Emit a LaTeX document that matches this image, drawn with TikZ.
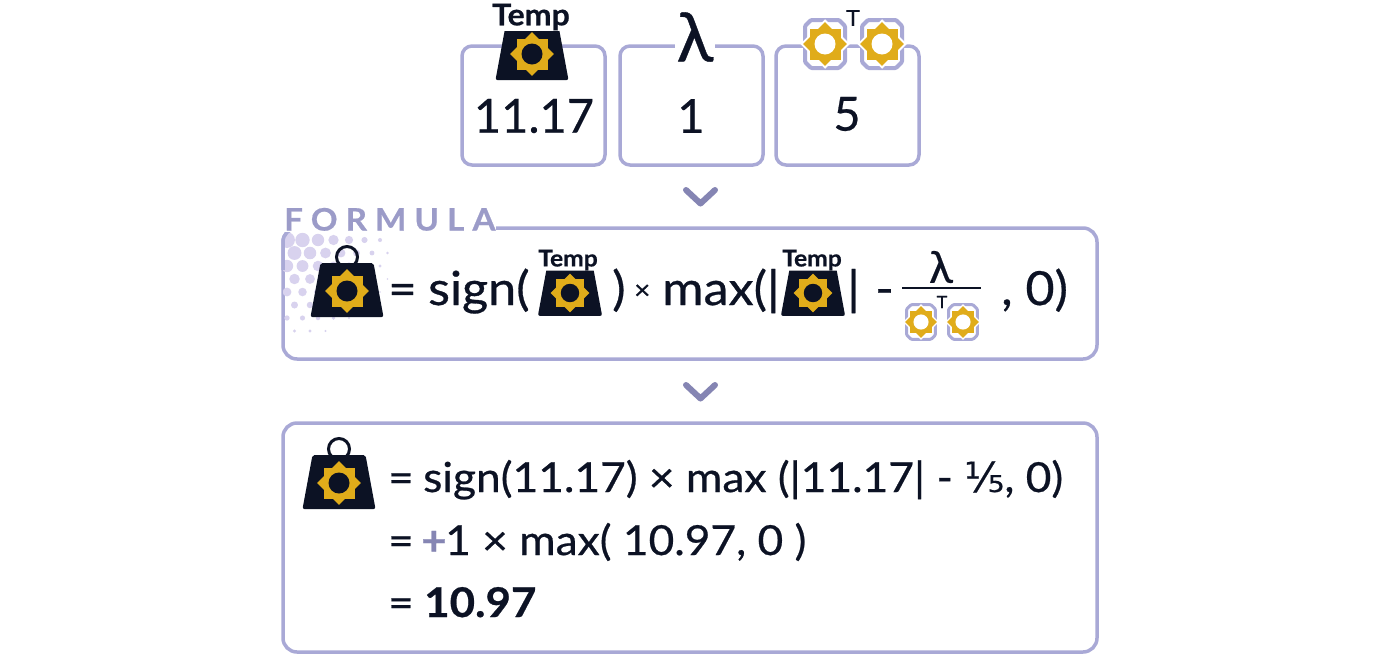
\documentclass[tikz,border=0pt]{standalone}
\usepackage{fontspec}
\setmainfont{Lato}[FakeStretch=1.07, FakeBold=0.6]
\newfontfamily\plainfont{Lato}[FakeBold=0.5]
\newfontfamily\fracfont{DejaVu Sans}[FakeBold=0.5]
\definecolor{inkdark}{HTML}{0C1224}
\definecolor{sungold}{HTML}{E0AC1A}
\definecolor{cardline}{HTML}{A9A9D6}
\definecolor{chevline}{HTML}{8585B3}
\definecolor{dotfill}{HTML}{D8D2EE}
\newcommand{\sunshape}[1]{
	\fill[sungold] (-15.5,-15.5) rectangle (15.5,15.5);
	\fill[sungold, rotate=45] (-15.5,-15.5) rectangle (15.5,15.5);
	\fill[#1] (0,0) circle (10.5);
}
\newcommand{\weightbody}{
	\fill[inkdark, rounded corners=2pt] (-26.5,-28) -- (26.5,-28) -- (36.5,26) -- (-36.5,26) -- cycle;
	\sunshape{inkdark}
}
\tikzset{
	card/.style={draw=cardline, line width=3.5pt, rounded corners=#1},
	chevron/.style={draw=chevline, line width=6pt, line cap=round, line join=round},
	body/.style={text=inkdark, inner sep=0pt, anchor=base west, font=\fontsize{#1}{#1}\selectfont},
	value/.style={text=inkdark, inner sep=0pt, font=\fontsize{47}{47}\selectfont\plainfont},
	templabel/.style={text=inkdark, fill=white, rounded corners=4pt, inner xsep=1.5pt, inner ysep=0.5pt, font=\fontsize{#1}{#1}\selectfont\bfseries},
	pics/weight/.style={code={
		\draw[inkdark, line width=3pt] (0,-34) circle (10.5);
		\weightbody
	}},
	pics/tempweight/.style={code={\weightbody}},
	pics/betamark/.style={code={
		\draw[cardline, line width=#1, fill=white, rounded corners=1pt] (-14,-24) -- (14,-24) -- (20,-18) -- (20,18) -- (14,24) -- (-14,24) -- (-20,18) -- (-20,-18) -- cycle;
		\fill[white, rotate=45] (-17.5,-17.5) rectangle (17.5,17.5);
		\sunshape{white}
	}},
}
\begin{document}
\begin{tikzpicture}[x=1pt, y=-1pt]
	\useasboundingbox (0,0) rectangle (1400,654);
	\fill[white] (0,0) rectangle (1400,654);

	\draw[card=10pt] (462,46) rectangle (605,165);
	\draw[card=10pt] (620,46) rectangle (763,165);
	\draw[card=10pt] (776,46) rectangle (919,165);
	\draw[card=14pt] (283,228) rectangle (1097,359);
	\draw[card=14pt] (283,423) rectangle (1097,652);

	% top row
	\pic (topweight) at (532,54) {tempweight};
	\node[templabel=30] (toptemp) at (531,17) {Temp};
	\node[value] (tempvalue) at (534,116) {11.17};
	\node[text=inkdark, fill=white, inner xsep=2pt, inner ysep=0pt, font=\fontsize{68}{68}\selectfont\plainfont] (toplambda) at (695,37) {λ};
	\node[value] (lambdavalue) at (691,116) {1};
	\pic (topbetaa) at (825,44) {betamark=4pt};
	\pic (topbetab) at (882,44) {betamark=4pt};
	\node[text=inkdark, inner sep=0pt, font=\fontsize{22}{22}\selectfont] (topt) at (853,18) {T};
	\node[value] (betavalue) at (847,114) {5};

	\coordinate (chevaleft) at (686,190);
	\coordinate (chevamid) at (700.5,203.5);
	\coordinate (chevaright) at (715,190);
	\draw[chevron] (chevaleft) -- (chevamid) -- (chevaright);

	% formula box
	\begin{scope}
		\clip[rounded corners=14pt] (283,228) rectangle (1097,359);
		\foreach \row in {0,...,7} {
			\foreach \col in {0,...,6} {
				\pgfmathsetmacro{\dotx}{287+\col*15.5+mod(\row,2)*7.5}
				\pgfmathsetmacro{\doty}{240+\row*13}
				\pgfmathsetmacro{\dotr}{8.5-0.068*veclen(\dotx-285,\doty-232)}
				\ifdim\dotr pt>0.8pt
					\fill[dotfill] (\dotx,\doty) circle (\dotr);
				\fi
			}
		}
	\end{scope}
	\draw[cardline, line width=3.5pt, rounded corners=14pt] (283,270) -- (283,228) -- (400,228);
	\node[fill=white, text=cardline!60!chevline, inner sep=1pt, anchor=south west, font=\fontsize{31}{31}\selectfont\bfseries\addfontfeatures{LetterSpace=26}] (formulatitle) at (283,232) {FORMULA};

	\pic (formweight) at (347,291) {weight};
	\node[body=46] (formeq) at (388,305) {=};
	\node[body=47] (formsign) at (428,305) {sign(};
	\pic[scale=.88] (formtempa) at (570,293) {tempweight};
	\node[templabel=23] (formtempalabel) at (568,260) {Temp};
	\node[body=47] (formclose) at (612,305) {)};
	\node[body=26] (formtimes) at (634,299) {×};
	\node[body=47] (formmax) at (662,305) {max(|};
	\pic[scale=.88] (formtempb) at (813,293) {tempweight};
	\node[templabel=23] (formtempblabel) at (812,260) {Temp};
	\node[body=47] (formbar) at (847,305) {|};
	\node[body=47] (formminus) at (875,305) {-};
	\node[text=inkdark, inner sep=0pt, font=\fontsize{44}{44}\selectfont\plainfont] (formlambda) at (941,267) {λ};
	\coordinate (fracleft) at (902,288);
	\coordinate (fracright) at (981,288);
	\draw[inkdark, line width=1.5pt] (fracleft) -- (fracright);
	\pic[scale=.72] (formbetaa) at (921,322) {betamark=3pt};
	\pic[scale=.72] (formbetab) at (963,322) {betamark=3pt};
	\node[text=inkdark, inner sep=0pt, font=\fontsize{17}{17}\selectfont] (formt) at (942,302) {T};
	\node[body=47] (formzero) at (1001,305) {, 0)};

	\coordinate (chevbleft) at (686,385);
	\coordinate (chevbmid) at (700.5,398.5);
	\coordinate (chevbright) at (715,385);
	\draw[chevron] (chevbleft) -- (chevbmid) -- (chevbright);

	% result box
	\pic (resweight) at (339,483) {weight};
	\node[body=41] (reseqa) at (388,492) {=};
	\node[body=41.4] (reslinea) at (423,492) {sign(11.17) × max (|11.17| - {\fracfont ⅕}, 0)};
	\node[body=41] (reseqb) at (388,555) {=};
	\node[body=41, text=chevline, font=\fontsize{41}{41}\selectfont\bfseries] (resplus) at (421,555) {+};
	\node[body=41.4] (reslineb) at (445,555) {1 × max( 10.97, 0 )};
	\node[body=41] (reseqc) at (388,617) {=};
	\node[body=41, font=\fontsize{41}{41}\selectfont\bfseries] (reslinec) at (424,617) {10.97};
\end{tikzpicture}
\end{document}
